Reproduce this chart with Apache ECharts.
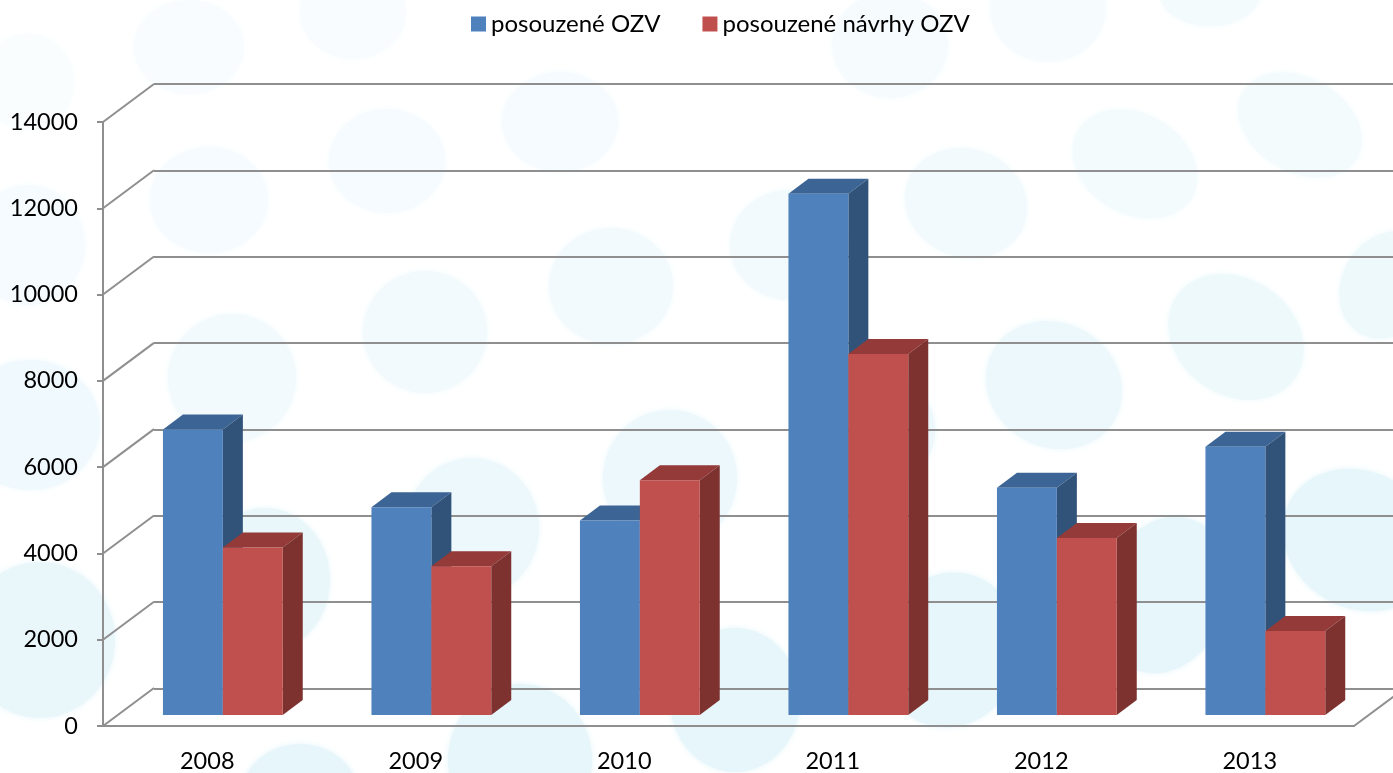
<!DOCTYPE html>
<html>
<head>
<meta charset="utf-8">
<title>posouzené OZV</title>
<script src="https://cdn.jsdelivr.net/npm/echarts@6/dist/echarts.min.js"></script>
<style>
  html, body { margin: 0; padding: 0; background: #fff; }
  #chart { width: 1393px; height: 773px; }
</style>
</head>
<body>
<div id="chart"></div>
<script>
const years = ['2008', '2009', '2010', '2011', '2012', '2013'];
const reviewedOzv = [6620, 4815, 4510, 12080, 5270, 6220];
const reviewedDrafts = [3880, 3450, 5440, 8370, 4100, 1945];
const valueTicks = [0, 2000, 4000, 6000, 8000, 10000, 12000, 14000];

// background spots: cx, cy, rx, ry, rotation (deg), colour
const spots = [
  [28, 82, 46, 48, 0, '#f9fdfe'], [189, 47, 55, 47, 0, '#f8fcfe'], [353, 12, 53, 47, 0, '#f8fcfe'],
  [890, 45, 58, 53, 0, '#f6fcfe'], [1048, 8, 58, 54, 0, '#f6fcfe'], [1210, -6, 50, 32, 0, '#f3fbfd'],
  [560, 122, 58, 50, 0, '#f5fbfe'], [387, 161, 58, 52, 0, '#f5fbfe'], [209, 200, 59, 53, 0, '#f5fbfe'],
  [28, 245, 57, 60, 0, '#f5fbfe'], [1300, 125, 66, 47, -30, '#f3fbfd'], [1135, 164, 66, 50, -30, '#f3fbfd'],
  [966, 203, 62, 54, -20, '#f2fafd'], [790, 245, 60, 55, 0, '#f2fafd'], [611, 286, 62, 58, 0, '#f2fafd'],
  [425, 332, 62, 61, 0, '#f2fafd'], [232, 378, 64, 64, 0, '#f2fafd'], [30, 425, 70, 65, 0, '#f0f9fd'],
  [1388, 285, 46, 56, -30, '#eef9fc'], [1236, 337, 72, 58, -35, '#eef9fc'], [1054, 385, 70, 62, -30, '#ecf8fc'],
  [870, 430, 65, 60, 0, '#ecf8fc'], [670, 478, 67, 68, 0, '#ecf8fc'], [472, 528, 67, 70, 0, '#ecf8fc'],
  [265, 580, 65, 72, 0, '#e9f7fb'], [40, 640, 75, 78, 0, '#e9f7fb'], [1360, 540, 80, 68, -30, '#e6f6fb'],
  [1165, 595, 62, 80, -20, '#e6f6fb'], [950, 650, 70, 78, -15, '#e6f6fb'], [735, 700, 65, 72, 0, '#e6f6fb'],
  [520, 760, 72, 76, 0, '#e6f6fb'], [300, 800, 60, 56, 0, '#e6f6fb']
];

const chart = echarts.init(document.getElementById('chart'));

const axisColor = '#8f8f8f';
const font = 'Lato, "Noto Sans", sans-serif';
const depthX = 20, depthY = -15;   // bar depth
const wallX = 51, wallY = -38;     // back wall offset

// one 3d bar: front, top and side faces
function barItem(leftOff, rightOff, front, top, side) {
  return function (params, api) {
    const cat = api.value(0);
    const p = api.coord([cat, api.value(1)]);
    const base = api.coord([cat, 0]);
    const x0 = p[0] + leftOff, x1 = p[0] + rightOff;
    const yTop = p[1] - 11, yBot = base[1] - 11;
    return {
      type: 'group',
      children: [
        { type: 'polygon', shape: { points: [[x0, yTop], [x0 + depthX, yTop + depthY], [x1 + depthX, yTop + depthY], [x1, yTop]] }, style: { fill: top } },
        { type: 'polygon', shape: { points: [[x1, yTop], [x1 + depthX, yTop + depthY], [x1 + depthX, yBot + depthY], [x1, yBot]] }, style: { fill: side } },
        { type: 'rect', shape: { x: x0, y: yTop, width: x1 - x0, height: yBot - yTop }, style: { fill: front } }
      ]
    };
  };
}

// slanted lines joining front axis to the back wall
function wallItem(params, api) {
  const rect = params.coordSys;
  const y = api.coord([0, api.value(0)])[1];
  const lineStyle = { stroke: axisColor, lineWidth: 2, fill: null };
  const children = [
    { type: 'line', shape: { x1: rect.x, y1: y, x2: rect.x + wallX, y2: y + wallY }, style: lineStyle }
  ];
  if (api.value(0) === 0) {
    children.push({ type: 'line', shape: { x1: rect.x + rect.width, y1: y, x2: rect.x + rect.width + wallX, y2: y + wallY }, style: lineStyle });
  }
  return { type: 'group', children: children };
}

const option = {
  animation: false,
  backgroundColor: '#fff',
  graphic: spots.map(function (s) {
    return {
      type: 'ellipse',
      z: -10,
      silent: true,
      x: s[0],
      y: s[1],
      rotation: s[4] * Math.PI / 180,
      shape: { cx: 0, cy: 0, rx: s[2], ry: s[3] },
      style: { fill: s[5], shadowBlur: 6, shadowColor: s[5] }
    };
  }),
  legend: {
    left: 466,
    top: 7,
    itemWidth: 15,
    itemHeight: 15,
    itemGap: 42,
    icon: 'rect',
    selectedMode: false,
    textStyle: { fontFamily: font, fontSize: 24, color: '#000' },
    data: [
      { name: 'posouzené OZV', itemStyle: { color: '#4f81bd' } },
      { name: 'posouzené návrhy OZV', itemStyle: { color: '#c0504d' } }
    ]
  },
  grid: [
    { left: 103, top: 122, width: 1251, height: 604.5 },
    { left: 103 + wallX, top: 122 + wallY, width: 1251, height: 604.5 }
  ],
  xAxis: [
    {
      type: 'category',
      data: years,
      axisLine: { lineStyle: { color: axisColor, width: 2 } },
      axisTick: { length: 9, lineStyle: { color: axisColor, width: 2 } },
      axisLabel: { fontFamily: font, fontSize: 23.5, color: '#000', margin: 23 }
    },
    { type: 'category', gridIndex: 1, data: years, show: false }
  ],
  yAxis: [
    {
      type: 'value',
      min: 0,
      max: 14000,
      interval: 2000,
      axisLine: { show: true, lineStyle: { color: axisColor, width: 2 } },
      axisTick: { show: true, length: 6, lineStyle: { color: axisColor, width: 2 } },
      axisLabel: {
        fontFamily: font,
        fontSize: 23.5,
        color: '#000',
        margin: 25,
        padding: [9, 0, 0, 0],
        formatter: function (v) { return String(v); }
      },
      splitLine: { show: false }
    },
    {
      type: 'value',
      gridIndex: 1,
      min: 0,
      max: 14000,
      interval: 2000,
      axisLine: { show: false },
      axisTick: { show: false },
      axisLabel: { show: false },
      splitLine: { show: true, lineStyle: { color: axisColor, width: 2 } }
    }
  ],
  series: [
    {
      type: 'custom',
      silent: true,
      z: 1,
      renderItem: wallItem,
      encode: { y: 0 },
      data: valueTicks.map(function (v) { return [v]; })
    },
    {
      name: 'posouzené OZV',
      type: 'custom',
      silent: true,
      z: 3,
      renderItem: barItem(-44.3, 15.6, '#4f81bd', '#3c6494', '#31537a'),
      encode: { x: 0, y: 1 },
      data: reviewedOzv.map(function (v, i) { return [i, v]; })
    },
    {
      name: 'posouzené návrhy OZV',
      type: 'custom',
      silent: true,
      z: 4,
      renderItem: barItem(15.6, 75.5, '#c0504d', '#943a38', '#7d3230'),
      encode: { x: 0, y: 1 },
      data: reviewedDrafts.map(function (v, i) { return [i, v]; })
    }
  ]
};

chart.setOption(option);
</script>
</body>
</html>
